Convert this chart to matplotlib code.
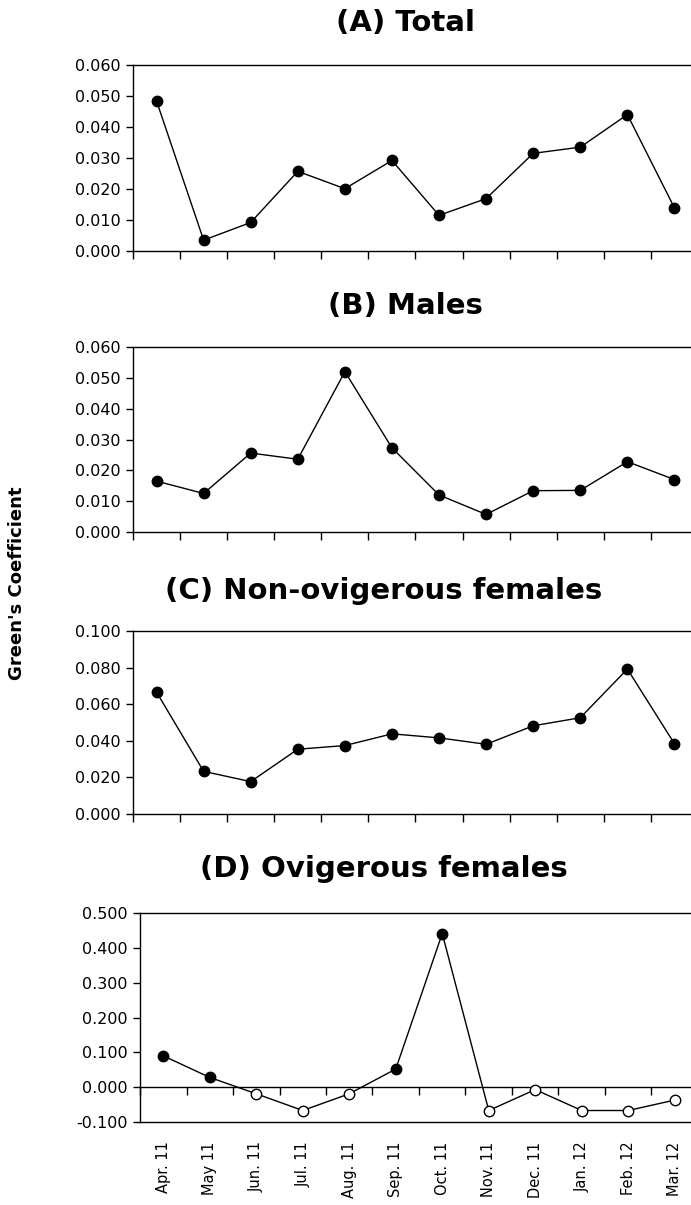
# Green's coefficient per month, four panels stacked

import numpy as np
import matplotlib
matplotlib.use('Agg')
import matplotlib.pyplot as plt
from matplotlib.ticker import FormatStrFormatter

months = ['Apr. 11', 'May 11', 'Jun. 11', 'Jul. 11', 'Aug. 11', 'Sep. 11',
          'Oct. 11', 'Nov. 11', 'Dec. 11', 'Jan. 12', 'Feb. 12', 'Mar. 12']

total = [0.0484, 0.0035, 0.0092, 0.0257, 0.0201, 0.0292,
         0.0115, 0.0169, 0.0315, 0.0335, 0.0440, 0.0139]
males = [0.0165, 0.0125, 0.0256, 0.0236, 0.0520, 0.0273,
         0.0120, 0.0057, 0.0134, 0.0135, 0.0228, 0.0170]
non_ovigerous = [0.0666, 0.0233, 0.0177, 0.0354, 0.0374, 0.0438,
                 0.0416, 0.0381, 0.0482, 0.0526, 0.0792, 0.0384]
ovigerous = [0.090, 0.028, -0.019, -0.067, -0.019, 0.052,
             0.441, -0.067, -0.007, -0.067, -0.067, -0.037]

titles = ['(A) Total', '(B) Males', '(C) Non-ovigerous females',
          '(D) Ovigerous females']

plt.rcParams['font.family'] = 'DejaVu Sans'

W, H = 691, 1205
fig = plt.figure(figsize=(W / 100, H / 100), dpi=100)


def px_axes(left, right, top, bottom):
    return fig.add_axes([left / W, 1 - bottom / H, (right - left) / W, (bottom - top) / H])


# panel boxes in pixels: left, right, top, bottom
boxes = [(133, 698, 65, 251), (133, 698, 347, 532),
         (133, 698, 631, 814), (140, 698, 913, 1122)]
title_pos = [(405, 23), (405, 306), (384, 591), (384, 869)]
ylims = [(0, 0.06, 0.01), (0, 0.06, 0.01), (0, 0.10, 0.02), (-0.1, 0.5, 0.1)]
series = [total, males, non_ovigerous, ovigerous]

x = np.arange(len(months))

for i, (vals, box, (tx, ty), (lo, hi, step), title) in enumerate(
        zip(series, boxes, title_pos, ylims, titles)):
    ax = px_axes(*box)
    vals = np.array(vals)
    ax.plot(x, vals, '-', color='black', lw=1.0, zorder=2)
    if i < 3:
        ax.plot(x, vals, 'o', color='black', ms=7.5, zorder=3)
    else:
        pos = vals > 0
        ax.plot(x[pos], vals[pos], 'o', mfc='black', mec='black', ms=7.5, zorder=3)
        ax.plot(x[~pos], vals[~pos], 'o', mfc='white', mec='black', mew=1.0,
                ms=7.5, zorder=3)

    ax.set_xlim(-0.5, len(months) - 0.5)
    ax.set_ylim(lo, hi)
    ax.set_yticks(np.arange(lo, hi + step / 2, step))
    ax.yaxis.set_major_formatter(FormatStrFormatter('%.3f'))
    ax.tick_params(axis='y', direction='out', length=5, width=1.0,
                   labelsize=11.5, pad=4)
    for sp in ax.spines.values():
        sp.set_linewidth(1.0)
        sp.set_color('black')

    ax.set_xticks(x)
    ax.set_xticks(np.arange(-0.5, len(months), 1), minor=True)
    if i < 3:
        ax.tick_params(axis='x', which='major', length=0, labelbottom=False)
        ax.tick_params(axis='x', which='minor', direction='out', length=6, width=1.0)
    else:
        # category axis crosses at zero; box edge stays at the bottom
        ax.set_xticklabels(months, rotation=90)
        ax.tick_params(axis='x', which='major', length=0, labelsize=10.5, pad=14)
        ax.tick_params(axis='x', which='minor', length=0)
        zero = ax.secondary_xaxis(0, transform=ax.transData)
        zero.set_xticks(np.arange(-0.5, len(months), 1))
        zero.tick_params(axis='x', direction='out', length=6, width=1.0,
                         labelbottom=False)
        zero.spines['bottom'].set_linewidth(1.0)

    fig.text(tx / W, 1 - ty / H, title, ha='center', va='center',
             fontsize=21, fontweight='bold')

fig.text(17 / W, 1 - 583 / H, "Green's Coefficient", rotation=90,
         ha='center', va='center', fontsize=13, fontweight='bold')

fig.savefig('out.png', dpi=100)
